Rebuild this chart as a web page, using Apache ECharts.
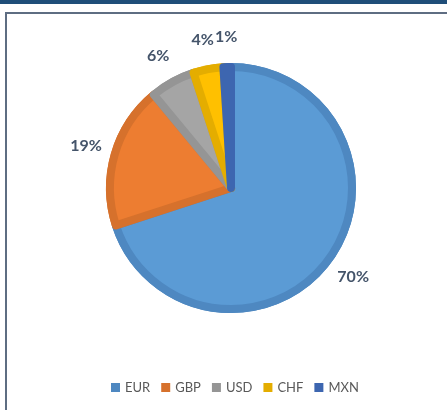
<!DOCTYPE html>
<html><head><meta charset="utf-8">
<script src="https://cdn.jsdelivr.net/npm/echarts@6/dist/echarts.min.js"></script>
<style>
html,body{margin:0;padding:0;background:#fff;}
#wrap{position:relative;width:447px;height:410px;overflow:hidden;}
#bar{position:absolute;left:0;top:0;width:447px;height:4px;background:#1F4E79;}
#frameTop{position:absolute;left:5px;top:12px;width:442px;height:2px;background:#5E6D82;}
#frameLeft{position:absolute;left:5px;top:12px;width:2px;height:398px;background:#5E6D82;}
#chart{position:absolute;left:0;top:0;width:447px;height:410px;}
</style></head>
<body><div id="wrap"><div id="bar"></div><div id="frameTop"></div><div id="frameLeft"></div><div id="chart"></div></div>
<script>
const categories = ['EUR', 'GBP', 'USD', 'CHF', 'MXN'];
const values = [70, 19, 6, 4, 1];
const lightColors = ['#5B9BD5', '#ED7D31', '#A5A5A5', '#FFC000', '#4472C4'];
const darkColors = ['#4E88C1', '#D6712C', '#959595', '#E4AD00', '#3D66B0'];

const chart = echarts.init(document.getElementById('chart'), null, {renderer: 'canvas'});
const center = [231, 188];
const dataLight = categories.map((c, i) => ({
  name: c, value: values[i],
  itemStyle: {color: lightColors[i], borderColor: darkColors[i]}
}));
const dataDark = categories.map((c, i) => ({
  name: c, value: values[i], itemStyle: {color: darkColors[i]}
}));
const dataGhost = categories.map((c, i) => ({name: c, value: values[i]}));

chart.setOption({
  animation: false,
  legend: {
    data: categories,
    left: 106, top: 376,
    icon: 'rect', itemWidth: 9, itemHeight: 9, itemGap: 11,
    textStyle: {fontFamily: 'Lato', fontSize: 13, color: '#595959'},
    selectedMode: false
  },
  series: [
    {
      type: 'pie', center: center, radius: [0, 125], startAngle: 90, clockwise: true,
      silent: true, label: {show: false}, labelLine: {show: false},
      data: dataDark
    },
    {
      type: 'pie', center: center, radius: [0, 121], startAngle: 90, clockwise: true,
      silent: true, label: {show: false}, labelLine: {show: false},
      itemStyle: {borderWidth: 8, borderJoin: 'round'},
      data: dataLight
    },
    {
      type: 'pie', center: center, radius: [0, 296], startAngle: 90, clockwise: true,
      silent: true, itemStyle: {color: 'rgba(0,0,0,0)'},
      avoidLabelOverlap: false,
      labelLayout: {hideOverlap: false},
      label: {show: true, position: 'inside', formatter: '{d}%', fontFamily: 'Lato',
        fontWeight: 'bold', fontSize: 16, color: '#44546A'},
      labelLine: {show: false},
      data: dataGhost
    }
  ]
});
</script></body></html>
